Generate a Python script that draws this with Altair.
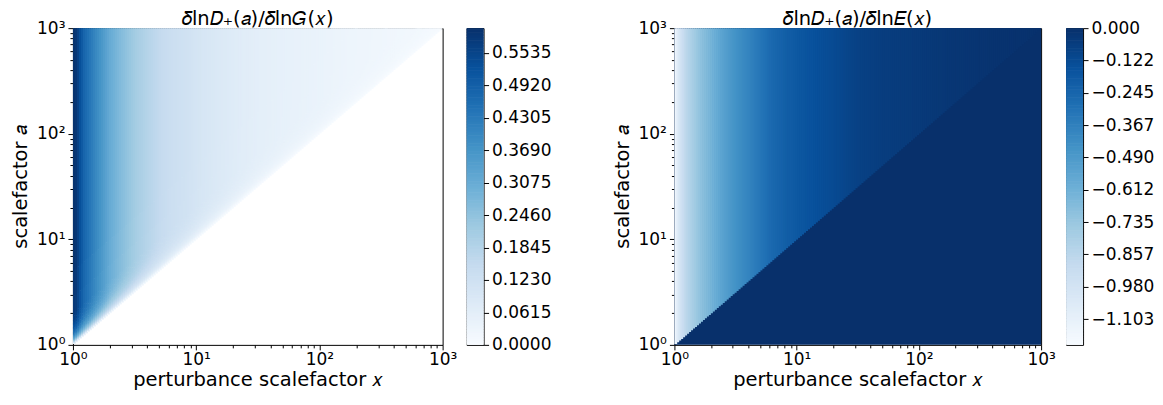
import numpy as np
import pandas as pd
import altair as alt

alt.data_transformers.disable_max_rows()

FONT = "DejaVu Sans"
TICK_FS = 17
LABEL_FS = 19.5

# ---------------- values ----------------
# sample positions along x (log10 of x) on the top row (a = 10^3)
logx_samples = [0.0, 0.015, 0.035, 0.057, 0.09, 0.138, 0.19, 0.243, 0.3, 0.38,
                0.45, 0.52, 0.6, 0.705, 0.8, 0.92, 1.05, 1.19, 1.35, 1.49,
                1.7, 2.0, 2.25, 2.6, 3.0]
# left panel: delta ln D+(a) / delta ln G(x)
G_response = [0.59, 0.60, 0.575, 0.53, 0.48, 0.44, 0.395, 0.355, 0.31, 0.27,
              0.24, 0.21, 0.185, 0.155, 0.135, 0.12, 0.10, 0.085, 0.07, 0.06,
              0.05, 0.04, 0.03, 0.022, 0.015]
# right panel: delta ln D+(a) / delta ln E(x), region a > x
E_response = [-1.19, -1.10, -1.02, -0.95, -0.87, -0.80, -0.73, -0.68, -0.63, -0.55,
              -0.49, -0.44, -0.39, -0.32, -0.26, -0.21, -0.17, -0.14, -0.11, -0.08,
              -0.06, -0.045, -0.03, -0.015, -0.005]
# right panel, region a < x
E_below = 0.0
# fade of the left panel towards the diagonal, as a function of x/a
taper_ratio = [0.0, 0.5, 0.6, 0.7, 0.8, 0.9, 0.95, 1.0]
taper_factor = [1.0, 0.97, 0.93, 0.85, 0.72, 0.5, 0.3, 0.0]

# colour bars
cbG_min, cbG_max = 0.0, 0.60
cbG_ticks = [0.0, 0.0615, 0.1230, 0.1845, 0.2460, 0.3075, 0.3690, 0.4305, 0.4920, 0.5535]
cbE_min, cbE_max = -1.20, 0.0
cbE_ticks = [0.0, -0.122, -0.245, -0.367, -0.490, -0.612, -0.735, -0.857, -0.980, -1.103]

# axes
major_vals = [1, 10, 100, 1000]
major_labels = ["10⁰", "10¹", "10²", "10³"]
minor_vals = [m * d for d in (1, 10, 100) for m in range(2, 10)]
title_G = "𝛿ln𝐷₊(𝑎)/𝛿ln𝐺(𝑥)"
title_E = "𝛿ln𝐷₊(𝑎)/𝛿ln𝐸(𝑥)"
xlabel = "perturbance scalefactor 𝑥"
ylabel = "scalefactor 𝑎"

# matplotlib "Blues" anchor colours
blues = ["#f7fbff", "#deebf7", "#c6dbef", "#9ecae1", "#6baed6",
         "#4292c6", "#2171b5", "#08519c", "#08306b"]

W1, W2, H = 370, 367, 317
CBW = 17

# ---------------- build tables ----------------
ncol = 185
edges = np.linspace(0, 3, ncol + 1)
step = edges[1] - edges[0]
lx_c = (edges[:-1] + edges[1:]) / 2
g_col = np.interp(lx_c, logx_samples, G_response)
e_col = np.interp(lx_c, logx_samples, E_response)
r_edges = np.concatenate([np.linspace(1.0, 0.5, 26), [0.35, 0.2, 0.0]])
ov = 1.012  # small overlap between neighbouring cells to hide seams

rowsG = []
for i in range(ncol):
    x0 = 10 ** edges[i]
    x1 = min(1000.0, 10 ** (edges[i + 1] + 0.4 * step))
    xc = 10 ** lx_c[i]
    for j in range(len(r_edges) - 1):
        r_hi, r_lo = r_edges[j], r_edges[j + 1]
        a_lo = max(1.0, xc / r_hi)
        a_hi = 1000.0 if r_lo <= 0 else min(1000.0, xc / r_lo * ov)
        if a_hi <= a_lo:
            continue
        f = np.interp((r_hi + r_lo) / 2, taper_ratio, taper_factor)
        rowsG.append(dict(x0=x0, x1=x1, a0=a_lo, a1=a_hi, v=float(g_col[i] * f)))
dfG = pd.DataFrame(rowsG)

rowsE = [dict(x0=1.0, x1=1000.0, a0=1.0, a1=1000.0, v=E_below)]
for i in range(ncol):
    x0 = 10 ** edges[i]
    x1 = min(1000.0, 10 ** (edges[i + 1] + 0.4 * step))
    xc = 10 ** lx_c[i]
    rowsE.append(dict(x0=x0, x1=x1, a0=xc, a1=1000.0, v=float(e_col[i])))
dfE = pd.DataFrame(rowsE)


def cscale(lo, hi):
    dom = list(np.linspace(lo, hi, len(blues)))
    return alt.Scale(domain=dom, range=blues, interpolate="rgb")


def lab_expr(vals, labs):
    s = "''"
    for v, l in reversed(list(zip(vals, labs))):
        s = f"datum.value == {v} ? '{l}' : ({s})"
    return s


tick_cond = {"condition": {"test": "indexof([1,10,100,1000], datum.value) >= 0", "value": 5}, "value": 3}

TITLE_OFF = -10


def heat(df, lo, hi, title, w):
    sc = cscale(lo, hi)
    xaxis = alt.Axis(values=major_vals + minor_vals, labelExpr=lab_expr(major_vals, major_labels),
                     tickSize=tick_cond, domain=False, grid=False, labelFlush=False,
                     labelOverlap=False, labelPadding=2, title=xlabel, titlePadding=3)
    yaxis = alt.Axis(values=major_vals + minor_vals, labelExpr=lab_expr(major_vals, major_labels),
                     tickSize=tick_cond, domain=False, grid=False, labelOverlap=False,
                     labelPadding=3, title=ylabel, titlePadding=6)
    return alt.Chart(df).mark_rect(strokeWidth=0).encode(
        x=alt.X("x0:Q", scale=alt.Scale(type="log", domain=[1, 1000], nice=False), axis=xaxis),
        x2="x1:Q",
        y=alt.Y("a0:Q", scale=alt.Scale(type="log", domain=[1, 1000], nice=False), axis=yaxis),
        y2="a1:Q",
        color=alt.Color("v:Q", scale=sc, legend=None),
    ).properties(width=w, height=H,
                 title=alt.TitleParams(title, fontSize=LABEL_FS, font=FONT, fontWeight="normal",
                                       color="black", anchor="middle", frame="group",
                                       offset=TITLE_OFF))


def cbar(lo, hi, ticks, fmt):
    n = 200
    e = np.linspace(lo, hi, n + 1)
    d = pd.DataFrame(dict(lo=e[:-1], hi=np.minimum(hi, e[1:] + 0.4 * (e[1] - e[0])),
                          mid=(e[:-1] + e[1:]) / 2))
    sc = cscale(lo, hi)
    return alt.Chart(d).mark_rect(strokeWidth=0).encode(
        x=alt.value(0), x2=alt.value(CBW),
        y=alt.Y("lo:Q", scale=alt.Scale(domain=[lo, hi], nice=False, zero=False),
                axis=alt.Axis(orient="right", values=ticks, format=fmt, tickSize=5, domain=False,
                              grid=False, labelOverlap=False, labelPadding=3, title=None)),
        y2="hi:Q",
        color=alt.Color("mid:Q", scale=sc, legend=None),
    ).properties(width=CBW, height=H,
                 title=alt.TitleParams(" ", fontSize=LABEL_FS, font=FONT, offset=TITLE_OFF))


left = alt.hconcat(heat(dfG, cbG_min, cbG_max, title_G, W1),
                   cbar(cbG_min, cbG_max, cbG_ticks, ".4f"), spacing=8)
right = alt.hconcat(heat(dfE, cbE_min, cbE_max, title_E, W2),
                    cbar(cbE_min, cbE_max, cbE_ticks, ".3f"), spacing=9)

chart = alt.hconcat(left, right, spacing=60).resolve_scale(
    color="independent"
).properties(
    padding={"left": 2, "top": 0, "right": 0, "bottom": 0}
).configure(background="white").configure_view(
    stroke="black", strokeWidth=1
).configure_axis(
    labelFont=FONT, titleFont=FONT, labelFontSize=TICK_FS, titleFontSize=LABEL_FS,
    labelColor="black", titleColor="black", tickColor="black", titleFontWeight="normal"
).configure_title(
    font=FONT, fontSize=LABEL_FS, fontWeight="normal", color="black"
)

chart.save("out.html", embed_options={"renderer": "svg", "actions": False})
